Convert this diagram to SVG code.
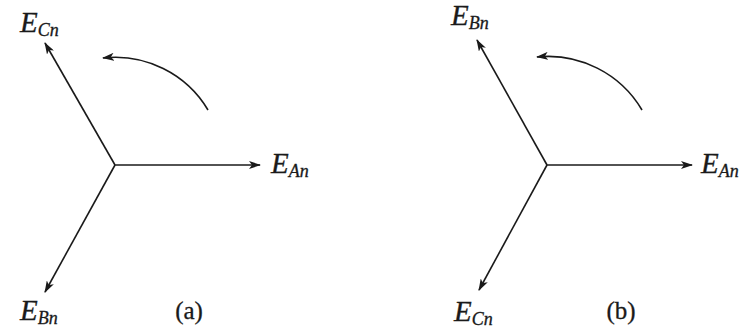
<svg xmlns="http://www.w3.org/2000/svg" width="754" height="328" viewBox="0 0 754 328">
<style>
.ln{stroke:#1a1a1a;stroke-width:1.6;fill:none}
text{font-family:'Liberation Serif','DejaVu Serif','Times New Roman',serif;fill:#1a1a1a;stroke:#1a1a1a;stroke-width:0.3}
.e{font-style:italic;font-size:29px}
.s{font-size:18px}
.cap{font-size:25px}
</style>
<defs>
<marker id="ah" viewBox="0 0 12 8" refX="11" refY="4" markerWidth="12" markerHeight="8" markerUnits="userSpaceOnUse" orient="auto">
<path d="M0,0 L12,4 L0,8 L3,4 z" fill="#1a1a1a" stroke="none"/>
</marker>
</defs>
<g id="connectors">
<line class="ln" x1="115" y1="165" x2="260" y2="165" marker-end="url(#ah)"/>
<line class="ln" x1="115" y1="165" x2="45" y2="43" marker-end="url(#ah)"/>
<line class="ln" x1="115" y1="165" x2="45" y2="292" marker-end="url(#ah)"/>
<path class="ln" d="M208,110 A108,108 0 0 0 103,58" marker-end="url(#ah)"/>
<line class="ln" x1="547" y1="165" x2="692" y2="165" marker-end="url(#ah)"/>
<line class="ln" x1="547" y1="165" x2="477" y2="40" marker-end="url(#ah)"/>
<line class="ln" x1="547" y1="165" x2="479" y2="290" marker-end="url(#ah)"/>
<path class="ln" d="M642,110 A109,109 0 0 0 537,57" marker-end="url(#ah)"/>
</g>
<g id="a-EAn"><text class="e" x="271" y="173">E<tspan class="s" dy="4">An</tspan></text></g>
<g id="a-ECn"><text class="e" x="20" y="32">E<tspan class="s" dy="4">Cn</tspan></text></g>
<g id="a-EBn"><text class="e" x="20" y="320">E<tspan class="s" dy="4">Bn</tspan></text></g>
<g id="a-label"><text class="cap" x="189" y="319" text-anchor="middle">(a)</text></g>
<g id="b-EAn"><text class="e" x="701" y="173">E<tspan class="s" dy="4">An</tspan></text></g>
<g id="b-EBn"><text class="e" x="451" y="25">E<tspan class="s" dy="4">Bn</tspan></text></g>
<g id="b-ECn"><text class="e" x="454" y="321">E<tspan class="s" dy="4">Cn</tspan></text></g>
<g id="b-label"><text class="cap" x="621" y="319" text-anchor="middle">(b)</text></g>
</svg>
